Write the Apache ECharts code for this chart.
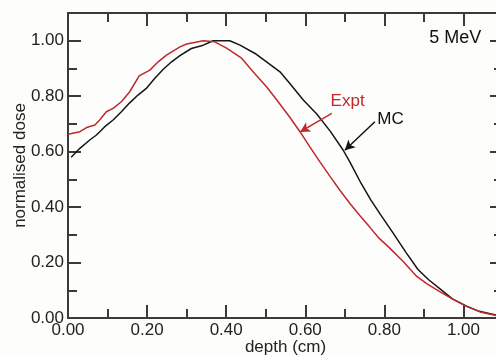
<!DOCTYPE html>
<html>
<head>
<meta charset="utf-8">
<script src="https://cdn.jsdelivr.net/npm/echarts@6/dist/echarts.min.js"></script>
<style>
html,body{margin:0;padding:0;background:#fdfdfb;}
#c{width:496px;height:356px;}
</style>
</head>
<body>
<div id="c"></div>
<script>
// depth (cm) / normalised dose — Monte Carlo
var mcDepth = [0.008,0.030,0.055,0.072,0.093,0.114,0.135,0.156,0.177,0.198,0.219,0.241,0.262,0.283,0.312,0.342,0.367,0.409,0.435,0.473,0.502,0.536,0.561,0.595,0.629,0.663,0.696,0.713,0.741,0.766,0.792,0.821,0.855,0.885,0.912,0.940,0.972,1.008,1.040,1.085];
var mcDose  = [0.580,0.612,0.642,0.660,0.690,0.714,0.744,0.776,0.804,0.828,0.864,0.897,0.924,0.946,0.972,0.984,1.000,1.000,0.984,0.954,0.924,0.888,0.846,0.786,0.736,0.674,0.605,0.562,0.486,0.425,0.369,0.309,0.236,0.175,0.138,0.106,0.069,0.043,0.024,0.010];
// Experiment
var exDepth = [0.000,0.030,0.047,0.068,0.080,0.097,0.114,0.135,0.156,0.180,0.207,0.228,0.249,0.283,0.300,0.342,0.371,0.401,0.439,0.468,0.502,0.528,0.561,0.587,0.612,0.637,0.663,0.688,0.713,0.739,0.764,0.787,0.813,0.847,0.882,0.907,0.941,0.975,1.009,1.042,1.085];
var exDose  = [0.663,0.672,0.687,0.696,0.714,0.744,0.756,0.780,0.816,0.873,0.894,0.924,0.948,0.978,0.988,1.000,0.996,0.973,0.937,0.888,0.834,0.786,0.724,0.671,0.616,0.563,0.510,0.460,0.413,0.368,0.326,0.287,0.253,0.205,0.150,0.124,0.094,0.066,0.041,0.022,0.008];

var xTitle = 'depth (cm)';
var yTitle = 'normalised dose';
var energyLabel = '5 MeV';
var exLabel = 'Expt';
var mcLabel = 'MC';
// annotation anchors in data units
var exLabelAt = [0.664, 0.782];
var mcLabelAt = [0.782, 0.717];
var energyAt  = [1.045, 1.010];
var exArrow = [[0.667, 0.738], [0.587, 0.671]];
var mcArrow = [[0.776, 0.708], [0.700, 0.605]];

function zip(a, b) { return a.map(function (v, i) { return [v, b[i]]; }); }

var RED = '#c0282e', BLACK = '#151515', AX = '#3a3a3a';
var FONT = 'Liberation Sans, Arial, Helvetica, sans-serif';

function axisCommon(showLabels) {
  return {
    type: 'value', min: 0, max: 1.1, interval: 0.2,
    axisLine: { show: true, onZero: false, lineStyle: { color: AX, width: 2 } },
    axisTick: { show: true, inside: true, length: 13, lineStyle: { color: AX, width: 2 } },
    minorTick: { show: true, splitNumber: 2, length: 9, lineStyle: { color: AX, width: 2 } },
    splitLine: { show: false },
    axisLabel: {
      show: showLabels, showMaxLabel: false, color: '#222', fontSize: 17, fontFamily: FONT,
      formatter: function (v) { return v.toFixed(2); }
    }
  };
}

var xb = axisCommon(true);
xb.position = 'bottom'; xb.name = xTitle; xb.nameLocation = 'middle'; xb.nameGap = 21;
xb.nameMoveOverlap = false;
xb.nameTextStyle = { color: '#222', fontSize: 17, fontFamily: FONT };
xb.axisLabel.margin = 4;
var xt = axisCommon(false); xt.position = 'top';
var yl = axisCommon(true);
yl.position = 'left'; yl.name = yTitle; yl.nameLocation = 'middle'; yl.nameGap = 39;
yl.nameMoveOverlap = false;
yl.nameTextStyle = { color: '#222', fontSize: 17, fontFamily: FONT };
yl.axisLabel.margin = 4;
var yr = axisCommon(false); yr.position = 'right';

var chart = echarts.init(document.getElementById('c'), null, { renderer: 'canvas' });

function arrowLine(a, color) {
  return {
    silent: true, animation: false,
    symbol: ['none', 'arrow'], symbolSize: [8, 10],
    label: { show: false },
    lineStyle: { color: color, width: 1.5, type: 'solid' },
    data: [[{ coord: a[0] }, { coord: a[1] }]]
  };
}

chart.setOption({
  backgroundColor: '#fdfdfb',
  animation: false,
  grid: { left: 68, right: -7, top: 13, bottom: 38, outerBoundsMode: 'none' },
  xAxis: [xb, xt],
  yAxis: [yl, yr],
  series: [
    { type: 'line', name: mcLabel, data: zip(mcDepth, mcDose), showSymbol: false, smooth: false,
      lineStyle: { color: BLACK, width: 1.5 }, itemStyle: { color: BLACK },
      markLine: arrowLine(mcArrow, BLACK) },
    { type: 'line', name: exLabel, data: zip(exDepth, exDose), showSymbol: false, smooth: false,
      lineStyle: { color: RED, width: 1.5 }, itemStyle: { color: RED },
      markLine: arrowLine(exArrow, RED) }
  ]
});

function px(p) { return chart.convertToPixel({ xAxisIndex: 0, yAxisIndex: 0 }, p); }
var e1 = px(exLabelAt), m1 = px(mcLabelAt), g1 = px(energyAt);
chart.setOption({
  graphic: [
    { type: 'text', x: e1[0], y: e1[1], style: { text: exLabel, fill: RED, font: '17px ' + FONT, textAlign: 'left', textVerticalAlign: 'middle' } },
    { type: 'text', x: m1[0], y: m1[1], style: { text: mcLabel, fill: '#111', font: '17px ' + FONT, textAlign: 'left', textVerticalAlign: 'middle' } },
    { type: 'text', x: g1[0], y: g1[1], style: { text: energyLabel, fill: '#111', font: '18px ' + FONT, textAlign: 'right', textVerticalAlign: 'middle' } }
  ]
});
</script>
</body>
</html>
